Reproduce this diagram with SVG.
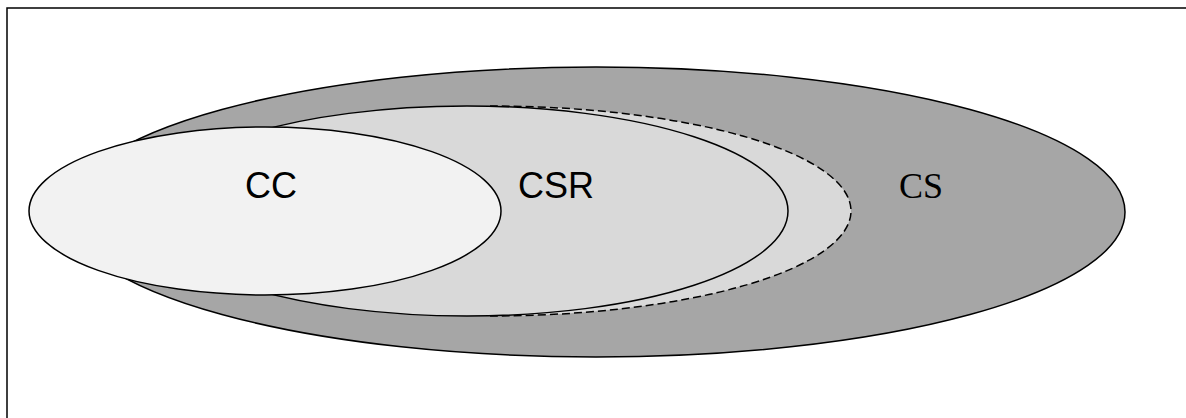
<svg xmlns="http://www.w3.org/2000/svg" width="1186" height="418" viewBox="0 0 1186 418">
<style>
.o{stroke:#000;stroke-width:1.5}
.s{font-family:"Liberation Sans",Arial,sans-serif;font-size:36px;fill:#000}
.t{font-family:"Liberation Serif","Times New Roman",serif;font-size:36px;fill:#000}
</style>
<rect x="7" y="8" width="1200" height="430" fill="#fff" stroke="#000" stroke-width="1.5"/>
<g id="CS">
<ellipse class="o" cx="596" cy="212" rx="529" ry="145" fill="#a6a6a6"/>
<text class="t" x="899" y="198">CS</text>
</g>
<g id="CSR-ext">
<path d="M490,106 A361,105 0 0 1 490,316" fill="#d9d9d9" stroke="#000" stroke-width="1.5" stroke-dasharray="8,4"/>
</g>
<g id="CSR">
<ellipse class="o" cx="467" cy="211" rx="321" ry="105" fill="#d9d9d9"/>
<text class="s" x="518" y="198">CSR</text>
</g>
<g id="CC">
<ellipse class="o" cx="265" cy="211" rx="236" ry="84" fill="#f2f2f2"/>
<text class="s" x="245" y="198">CC</text>
</g>
<g id="connectors"/>
</svg>
